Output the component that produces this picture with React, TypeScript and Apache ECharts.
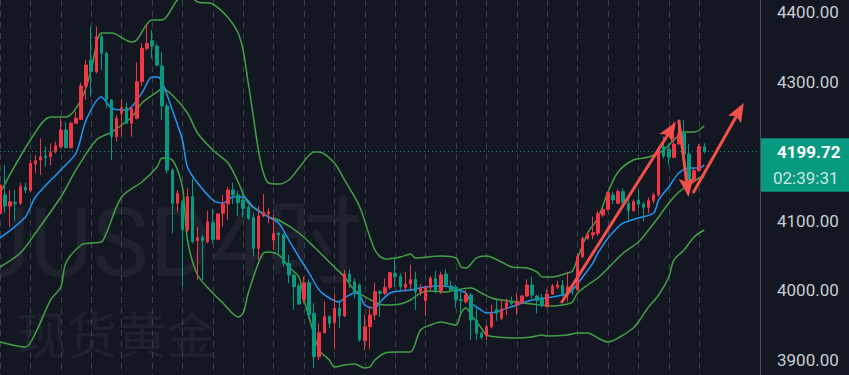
import React, { useEffect, useRef } from "react";
import * as echarts from "echarts";

// ---- data ----
const opens = [4110.6,4137.0,4121.0,4126.4,4125.0,4148.0,4143.2,4181.6,4187.3,4193.1,4192.1,4199.3,4206.5,4230.5,4205.1,4240.1,4245.8,4293.8,4331.2,4314.4,
4364.8,4340.8,4273.7,4220.9,4254.5,4262.6,4240.1,4247.3,4300.0,4348.0,4359.0,4351.4,4322.6,4265.0,4173.0,4125.0,4127.4,4086.6,4134.6,4071.3,
4076.1,4069.8,4097.2,4073.2,4110.6,4124.0,4144.2,4137.0,4129.8,4119.2,4104.8,4060.2,4106.8,4109.6,4072.2,4081.8,4079.4,4038.7,4021.9,4006.1,
3986.9,4010.8,3966.7,3904.3,3938.9,3961.9,3953.3,3973.9,3962.9,4023.3,4012.3,4007.5,3927.4,3947.5,3964.3,3997.9,3995.5,4004.1,4024.3,4019.5,
4004.1,4008.9,4015.6,3997.9,3984.9,4004.1,4017.1,3999.3,4023.3,4006.1,4004.1,3986.4,3983.5,3993.1,3957.1,3937.9,3934.1,3947.5,3972.5,3959.5,
3973.9,3983.5,3978.7,3982.1,3991.7,4007.5,3991.7,3986.9,3976.3,3994.5,4004.1,4007.5,3993.1,4004.1,4000.3,4048.3,4074.6,4079.4,4081.8,4108.2,
4116.4,4137.0,4125.0,4141.8,4125.0,4114.4,4129.8,4124.0,4119.2,4128.8,4137.0,4206.5,4202.7,4191.2,4210.4,4225.7,4196.0,4156.2,4172.0,4206.5];
const closes = [4151.4,4121.0,4127.4,4124.5,4149.0,4144.2,4182.5,4186.4,4192.1,4190.7,4197.9,4207.9,4230.5,4205.1,4240.1,4247.3,4293.8,4324.0,4314.4,4364.8,
4340.8,4274.6,4220.9,4247.3,4262.6,4240.1,4261.7,4300.0,4348.0,4355.2,4351.4,4324.0,4265.0,4173.0,4125.0,4139.4,4086.6,4134.6,4069.8,4075.6,
4071.3,4098.6,4073.2,4109.6,4124.0,4144.2,4137.0,4126.0,4117.8,4103.4,4060.2,4106.8,4111.6,4112.5,4081.8,4079.4,4038.7,4021.9,4005.1,3980.2,
4010.8,3964.3,3904.3,3938.9,3961.9,3952.3,3973.9,3962.9,4023.3,4012.3,3995.5,3928.4,3947.5,3964.3,3997.9,3995.5,4004.1,4025.2,4019.5,4005.1,
4008.9,4015.6,3997.9,4002.7,4004.1,4017.1,3999.3,4021.9,4007.5,4000.3,3985.9,3984.9,3993.1,3957.1,3937.9,3932.2,3947.5,3966.7,3966.7,3972.5,
3982.1,3980.2,3983.5,3991.7,4007.5,3993.1,3984.9,3977.3,3994.5,4006.1,4007.5,3993.1,4005.1,4000.3,4048.3,4074.6,4080.4,4082.8,4110.6,4116.4,
4140.3,4129.8,4141.8,4126.0,4114.4,4127.4,4124.0,4119.2,4128.8,4137.0,4202.7,4193.1,4191.2,4210.4,4225.7,4196.0,4156.2,4172.0,4206.5,4199.72];
const lows = [4108.2,4110.6,4091.4,4098.6,4122.6,4139.4,4141.8,4168.2,4165.8,4177.8,4180.1,4196.9,4204.1,4204.1,4204.1,4239.1,4244.9,4273.7,4278.5,4312.0,
4316.8,4261.7,4187.3,4213.7,4220.9,4239.1,4220.9,4245.8,4293.8,4344.6,4333.6,4321.6,4244.9,4168.2,4081.8,4113.0,4005.1,4084.2,4067.4,4014.7,
4014.7,4067.4,4067.4,4072.2,4091.4,4101.0,4124.0,4106.8,4104.8,4101.0,4048.3,4044.4,4104.8,4096.2,4057.8,4053.0,4033.9,4009.9,3971.5,3978.7,
3981.1,3959.5,3887.6,3899.6,3937.9,3945.1,3914.9,3945.1,3961.0,4002.7,3988.3,3926.0,3913.9,3914.9,3957.1,3961.9,3993.1,4001.3,4005.1,4000.3,
3997.9,4000.3,3971.5,3991.7,3962.9,4000.3,3995.5,3994.5,4004.1,3997.9,3974.0,3966.7,3981.1,3928.4,3928.4,3929.3,3928.4,3945.1,3956.2,3957.1,
3964.3,3978.7,3964.3,3980.2,3989.8,3988.3,3966.7,3976.3,3975.4,3993.1,4001.3,3990.7,3983.5,3993.1,3999.3,4045.9,4072.2,4073.2,4078.0,4105.8,
4114.4,4124.0,4124.0,4125.0,4098.6,4113.0,4117.8,4098.6,4110.6,4125.0,4134.6,4189.7,4180.1,4189.7,4209.0,4192.1,4153.8,4153.8,4170.6,4196.9];
const highs = [4153.8,4180.0,4144.0,4144.0,4154.7,4154.7,4187.3,4194.5,4218.5,4206.5,4211.3,4213.7,4247.3,4242.5,4242.5,4256.9,4298.6,4331.2,4379.2,4379.2,
4369.6,4343.2,4274.6,4252.1,4274.6,4269.8,4265.0,4327.4,4355.2,4381.6,4374.4,4355.2,4343.2,4268.9,4175.4,4144.2,4129.8,4146.6,4161.0,4090.5,
4079.4,4114.4,4116.4,4110.6,4137.0,4149.0,4154.7,4143.2,4143.2,4122.6,4110.6,4121.2,4138.4,4117.8,4108.2,4084.2,4081.8,4050.7,4024.3,4009.9,
4019.5,4015.6,3981.1,3952.3,3983.5,3964.3,3995.5,3985.9,4029.1,4030.0,4017.1,4009.9,3964.3,3976.3,4010.8,4000.3,4017.1,4026.7,4045.9,4024.3,
4026.7,4036.3,4026.7,4008.9,4007.5,4020.4,4028.1,4026.7,4030.0,4013.7,4007.5,3997.9,4000.3,3995.5,3973.9,3940.4,3949.9,3978.7,3985.9,3985.9,
3988.3,3990.7,3996.5,3993.1,4015.6,4019.5,3993.1,3994.5,4001.3,4008.9,4013.7,4014.7,4026.7,4006.1,4053.0,4077.0,4084.2,4105.8,4114.4,4117.8,
4141.8,4141.8,4145.1,4146.6,4130.8,4130.8,4145.1,4127.4,4133.6,4140.3,4206.5,4220.9,4211.3,4242.5,4242.5,4244.9,4210.4,4175.4,4210.4,4211.3];

// Bollinger upper / middle / lower and the blue average, read as [candle index, price]
const upperBand = [[0,4139.9],[6,4216.1],[10,4249.2],[13,4249.2],[16,4273.7],[18,4316.8],[20,4370.1],[22,4370.1],[26,4357.1],[27,4360.0],
[30,4388.8],[32,4388.8],[35,4417.6],[37,4426.2],[39,4414.7],[42,4411.8],[47,4370.1],[49,4298.1],[51,4201.7],[52,4168.6],[53,4154.2],
[55,4152.8],[57,4158.6],[59,4175.8],[62,4198.9],[63,4198.9],[66,4183.0],[68,4158.6],[71,4119.7],[74,4057.8],[76,4044.9],[79,4047.8],
[81,4052.1],[82,4046.3],[87,4049.2],[90,4046.3],[91,4033.4],[92,4031.9],[94,4046.3],[96,4049.2],[99,4040.6],[101,4033.4],[104,4031.9],
[106,4026.2],[107,4019.0],[109,4019.0],[112,4024.8],[113,4027.6],[114,4046.3],[116,4082.3],[118,4103.9],[120,4141.3],[122,4170.1],
[125,4187.3],[128,4191.7],[131,4201.7],[133,4216.1],[135,4227.6],[137,4227.6],[139,4236.3]];
const middleBand = [[0,4033.4],[4,4053.5],[7,4082.3],[12,4134.1],[15,4173.0],[19,4216.1],[22,4227.6],[26,4249.2],[28,4269.4],[31,4285.2],
[32,4289.5],[34,4280.9],[37,4255.0],[39,4226.2],[42,4201.7],[45,4183.0],[47,4155.7],[49,4125.5],[53,4105.3],[55,4101.0],[59,4082.3],
[62,4062.2],[66,4033.4],[68,4019.0],[70,4000.3],[74,3983.0],[76,3978.7],[79,3980.2],[81,3985.9],[83,3996.0],[85,3998.9],[88,3997.4],
[90,4000.3],[93,4003.2],[95,3996.0],[97,3988.8],[99,3985.9],[102,3983.0],[105,3980.2],[109,3977.3],[112,3980.2],[113,3983.0],[114,3996.0],
[116,4007.5],[118,4017.6],[121,4039.1],[123,4053.5],[126,4069.4],[128,4086.6],[130,4105.3],[132,4125.5],[134,4141.3],[136,4151.4],
[138,4161.4],[139,4162.9]];
const lowerBand = [[0,3925.5],[5,3918.3],[7,3938.4],[10,3986.0],[12,4004.6],[13,4039.1],[16,4065.0],[18,4067.9],[20,4069.4],[21,4082.3],
[24,4134.1],[28,4155.7],[31,4177.3],[32,4190.2],[34,4187.4],[36,4148.5],[37,4072.2],[39,4021.9],[42,3996.0],[44,3981.6],[47,3961.5],
[48,3967.2],[49,3996.0],[51,4039.1],[52,4053.5],[53,4055.0],[55,4050.7],[57,4033.4],[59,4019.0],[60,3986.0],[61,3961.5],[63,3914.0],
[65,3899.6],[66,3889.5],[68,3892.4],[70,3893.8],[72,3888.1],[73,3889.5],[74,3899.6],[76,3909.7],[78,3911.1],[79,3911.1],[81,3911.1],
[83,3942.8],[85,3949.9],[87,3954.3],[90,3949.9],[91,3967.2],[92,3974.4],[93,3964.3],[95,3945.6],[96,3935.6],[98,3932.7],[102,3931.2],
[105,3932.7],[107,3935.6],[108,3934.1],[112,3935.6],[114,3938.4],[116,3938.4],[118,3931.2],[120,3925.5],[122,3931.2],[125,3945.6],
[126,3954.3],[128,3975.8],[130,3993.1],[132,4019.0],[133,4043.4],[135,4057.8],[137,4076.6],[139,4086.6]];
const blueAverage = [[0,4075.1],[5,4105.3],[7,4134.1],[12,4173.0],[15,4197.4],[17,4244.9],[20,4278.0],[22,4262.2],[24,4259.3],[25,4259.3],
[28,4283.7],[30,4306.8],[31,4306.8],[32,4299.6],[34,4259.3],[36,4216.1],[37,4177.3],[39,4154.2],[42,4129.8],[44,4125.5],[46,4134.1],
[48,4134.1],[50,4119.7],[53,4105.3],[55,4096.7],[57,4072.2],[59,4047.8],[61,4024.8],[63,4000.3],[65,3988.8],[67,3983.0],[68,3988.8],
[70,3996.0],[71,3993.1],[72,3978.7],[74,3974.4],[75,3983.0],[77,3996.0],[79,3998.9],[81,4000.3],[84,4004.6],[87,4006.1],[89,4004.6],
[91,3998.9],[92,3996.0],[93,3981.6],[95,3971.5],[96,3967.2],[98,3968.6],[99,3971.5],[102,3978.7],[105,3985.9],[109,3990.2],[111,3993.1],
[112,3994.5],[113,4000.3],[115,4019.0],[117,4039.1],[118,4053.5],[120,4075.1],[122,4090.9],[123,4096.7],[126,4103.9],[129,4111.1],
[130,4129.8],[132,4148.5],[134,4168.6],[136,4175.8],[138,4175.8],[139,4180.1]];

// drawn arrows: [candle index, price] from -> to
const arrowFrom = [[110.9, 3983.0], [134.0, 4243.4], [136.9, 4141.3]];
const arrowTo = [[133.4, 4242.0], [135.9, 4134.1], [146.8, 4269.4]];

const lastPrice = 4199.72;
const countdown = "02:39:31";
const watermarkSymbol = "XAUUSD";
const watermarkInterval = "4时";
const watermarkName = "现货黄金";
const slotCount = 151;
const categories = Array.from({ length: slotCount }, (_, i) => String(i));

const BG = "#131722";
const UP = "#F23645";
const DOWN = "#089981";
const BAND = "#43A047";
const ARROW = "#F2504B";
const WM = "rgba(255,255,255,0.05)";

export default function App() {
  const ref = useRef<HTMLDivElement>(null);
  useEffect(() => {
    if (!ref.current) return;
    const chart = echarts.init(ref.current, undefined, { renderer: "svg" });
    const candles = opens.map((o, i) => [o, closes[i], lows[i], highs[i]]);
    const lineSeries = (data: number[][], color: string) => ({
      type: "line",
      data,
      showSymbol: false,
      symbol: "none",
      smooth: 0.3,
      silent: true,
      lineStyle: { color, width: 1.5 },
      z: 3,
    });
    chart.setOption({
      animation: false,
      backgroundColor: BG,
      grid: { left: 0, right: 89, top: 0, bottom: 0, containLabel: false },
      xAxis: {
        type: "category",
        data: categories,
        boundaryGap: false,
        axisLine: { show: false },
        axisTick: { show: false },
        axisLabel: { show: false },
        splitLine: {
          show: true,
          interval: (i: number) => i % 6 === 0 && i < opens.length,
          lineStyle: { color: "#3b3f4b", width: 1, type: [6, 5] },
        },
      },
      yAxis: {
        type: "value",
        position: "right",
        min: 3878,
        max: 4417.55,
        axisLine: { show: true, lineStyle: { color: "#4a4e59", width: 1 } },
        axisTick: { show: false },
        splitLine: { show: false },
        axisLabel: {
          margin: 17,
          align: "left",
          color: "#c9ccd3",
          fontSize: 17,
          fontFamily: "Roboto",
          showMinLabel: false,
          showMaxLabel: false,
          // the tick next to the last-price box is covered by it
          formatter: (v: number) => (Math.abs(v - lastPrice) < 30 ? "" : v.toFixed(2)),
        },
      },
      series: [
        lineSeries(upperBand, BAND),
        lineSeries(middleBand, BAND),
        lineSeries(lowerBand, BAND),
        lineSeries(blueAverage, "#2196F3"),
        {
          type: "candlestick",
          data: candles,
          barWidth: 3,
          z: 4,
          itemStyle: { color: UP, color0: DOWN, borderColor: UP, borderColor0: DOWN, borderWidth: 1 },
          markLine: {
            silent: true,
            symbol: ["none", "none"],
            label: { show: false },
            lineStyle: { color: DOWN, type: [1, 3], width: 1 },
            data: [{ yAxis: lastPrice }],
          },
        },
      ],
    });

    const xa = chart.convertToPixel({ xAxisIndex: 0 }, 0) as number;
    const xb = chart.convertToPixel({ xAxisIndex: 0 }, 100) as number;
    const toPx = (p: number[]) => [
      xa + ((xb - xa) * p[0]) / 100,
      chart.convertToPixel({ yAxisIndex: 0 }, p[1]) as number,
    ];
    const els: any[] = [
      {
        type: "text", id: "wm1", z: -1, silent: true,
        style: { text: watermarkSymbol, x: 212, y: 243, align: "right", verticalAlign: "middle",
          fontSize: 96, fontFamily: "Roboto", fill: WM },
      },
      {
        type: "text", id: "wm1b", z: -1, silent: true,
        style: { text: watermarkInterval, x: 212, y: 243, align: "left", verticalAlign: "middle",
          fontSize: 96, fontFamily: "Roboto, 'Noto Sans CJK SC'", fill: WM },
      },
      {
        type: "text", id: "wm2", z: -1, silent: true,
        style: { text: watermarkName, x: 17, y: 332, align: "left", verticalAlign: "middle",
          fontSize: 50, fontFamily: "'Noto Sans CJK SC'", fill: WM },
      },
    ];
    arrowFrom.forEach((f, k) => {
      const [sx, sy] = toPx(f);
      const [ex, ey] = toPx(arrowTo[k]);
      const dx = ex - sx, dy = ey - sy;
      const len = Math.hypot(dx, dy);
      const ux = dx / len, uy = dy / len;
      const L = 19, W = 7.5;
      const bx = ex - ux * L, by = ey - uy * L;
      const nx = -uy, ny = ux;
      els.push({
        type: "line", id: "al" + k, z: 100, silent: true,
        shape: { x1: sx, y1: sy, x2: bx + ux * 3, y2: by + uy * 3 },
        style: { stroke: ARROW, lineWidth: 3, lineCap: "round" },
      });
      els.push({
        type: "polygon", id: "ah" + k, z: 100, silent: true,
        shape: { points: [[ex, ey], [bx + nx * W, by + ny * W], [bx + ux * 4, by + uy * 4], [bx - nx * W, by - ny * W]] },
        style: { fill: ARROW },
      });
    });
    const py = chart.convertToPixel({ yAxisIndex: 0 }, lastPrice) as number;
    els.push({
      type: "rect", id: "pbox", z: 100, silent: true,
      shape: { x: 761, y: py - 13.2, width: 88, height: 53.5 },
      style: { fill: DOWN },
    });
    els.push({
      type: "text", id: "ptext", z: 101, silent: true,
      style: { text: lastPrice.toFixed(2), x: 777, y: py + 0.5, align: "left", verticalAlign: "middle",
        fontSize: 17, fontWeight: "bold", fontFamily: "Roboto", fill: "#ffffff" },
    });
    els.push({
      type: "text", id: "ctext", z: 101, silent: true,
      style: { text: countdown, x: 773, y: py + 27, align: "left", verticalAlign: "middle",
        fontSize: 17, fontFamily: "Roboto", fill: "rgba(255,255,255,0.78)" },
    });
    chart.setOption({ graphic: { elements: els } });
    return () => chart.dispose();
  }, []);
  return (
    <div
      ref={ref}
      style={{ position: "fixed", left: 0, top: 0, width: 849, height: 375, background: BG }}
    />
  );
}
